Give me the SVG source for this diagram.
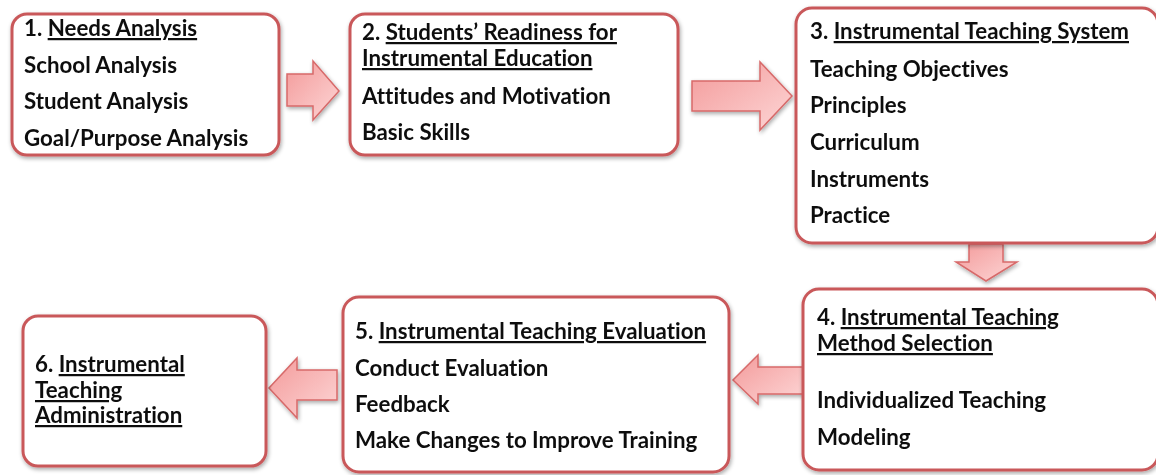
<svg xmlns="http://www.w3.org/2000/svg" width="1156" height="475" viewBox="0 0 1156 475">
<defs>
<linearGradient id="ag" x1="0" y1="0" x2="1" y2="1">
<stop offset="0" stop-color="#f39a9a"/>
<stop offset="1" stop-color="#fdd6d6"/>
</linearGradient>
<filter id="sh" x="-10%" y="-10%" width="120%" height="125%">
<feGaussianBlur in="SourceAlpha" stdDeviation="2"/>
<feOffset dx="1" dy="2" result="b"/>
<feComponentTransfer><feFuncA type="linear" slope="0.35"/></feComponentTransfer>
<feMerge><feMergeNode/><feMergeNode in="SourceGraphic"/></feMerge>
</filter>
</defs>
<style>
.box{fill:#fff;stroke:#c9585a;stroke-width:3}
.arr{fill:url(#ag);stroke:#d76a6a;stroke-width:1.5;stroke-linejoin:miter}
text{font-family:Lato,"Open Sans",sans-serif;font-weight:bold;font-size:22.3px;fill:#111;font-variant-ligatures:none}
.u{text-decoration:underline}
</style>
<g id="connectors" filter="url(#sh)">
<polygon class="arr" points="287,74 313,74 313,61 339,91 313,120 313,106 287,106"/>
<polygon class="arr" points="692,81 760,81 760,62 792,96 760,130 760,111 692,111"/>
<polygon class="arr" points="969,244 1003,244 1003,262 1017,262 986,281 956,262 969,262"/>
<polygon class="arr" points="803,367 758,367 758,355 733,380 758,404 758,394 803,394"/>
<polygon class="arr" points="337,370 297,370 297,358 269,388 297,418 297,400 337,400"/>
</g>
<g id="node1" filter="url(#sh)">
<rect class="box" x="12" y="14" width="267" height="141" rx="15"/>
<text x="24" y="36">1. <tspan class="u">Needs Analysis</tspan></text>
<text x="24" y="73">School Analysis</text>
<text x="24" y="109">Student Analysis</text>
<text x="24" y="146">Goal/Purpose Analysis</text>
</g>
<g id="node2" filter="url(#sh)">
<rect class="box" x="350" y="14" width="328" height="141" rx="15"/>
<text x="362" y="40">2. <tspan class="u">Students’ Readiness for</tspan></text>
<text x="362" y="66" class="u">Instrumental Education</text>
<text x="362" y="104">Attitudes and Motivation</text>
<text x="362" y="140">Basic Skills</text>
</g>
<g id="node3" filter="url(#sh)">
<rect class="box" x="796" y="8" width="362" height="235" rx="16"/>
<text x="810" y="39">3. <tspan class="u">Instrumental Teaching System</tspan></text>
<text x="810" y="77">Teaching Objectives</text>
<text x="810" y="113">Principles</text>
<text x="810" y="150">Curriculum</text>
<text x="810" y="187">Instruments</text>
<text x="810" y="223">Practice</text>
</g>
<g id="node4" filter="url(#sh)">
<rect class="box" x="803" y="289" width="355" height="181" rx="16"/>
<text x="817" y="325">4. <tspan class="u">Instrumental Teaching</tspan></text>
<text x="817" y="351" class="u">Method Selection</text>
<text x="817" y="408">Individualized Teaching</text>
<text x="817" y="445">Modeling</text>
</g>
<g id="node5" filter="url(#sh)">
<rect class="box" x="343" y="297" width="386" height="175" rx="16"/>
<text x="355" y="339">5. <tspan class="u">Instrumental Teaching Evaluation</tspan></text>
<text x="355" y="376">Conduct Evaluation</text>
<text x="355" y="412">Feedback</text>
<text x="355" y="448">Make Changes to Improve Training</text>
</g>
<g id="node6" filter="url(#sh)">
<rect class="box" x="23" y="316" width="243" height="150" rx="15"/>
<text x="35" y="372">6. <tspan class="u">Instrumental</tspan></text>
<text x="35" y="398" class="u">Teaching</text>
<text x="35" y="423" class="u">Administration</text>
</g>
</svg>
